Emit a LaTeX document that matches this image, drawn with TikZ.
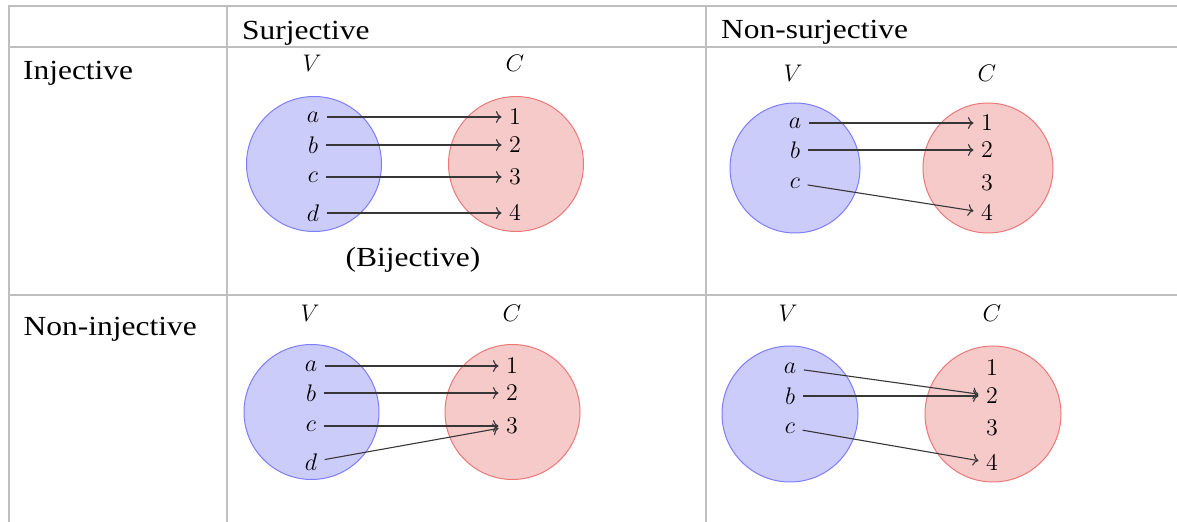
\documentclass[tikz,border=0pt]{standalone}
\usepackage{fontspec}
\newfontfamily\tabfont[FakeStretch=1.14]{Liberation Serif}
\usetikzlibrary{arrows.meta}
\definecolor{rulegray}{RGB}{191,191,191}
\definecolor{vfill}{RGB}{204,204,250}
\definecolor{vdraw}{RGB}{125,125,255}
\definecolor{cfill}{RGB}{247,202,202}
\definecolor{cdraw}{RGB}{236,120,120}
\definecolor{mapgray}{RGB}{55,55,55}

\begin{document}
\begin{tikzpicture}[x=.5pt,y=-.5pt,
  rule/.style={draw=rulegray,line width=1pt},
  head/.style={font=\tabfont\fontsize{13.8}{16}\selectfont,anchor=base west,inner sep=0pt},
  setname/.style={font=\fontsize{12}{14}\selectfont,inner sep=1pt},
  elem/.style={font=\fontsize{12}{14}\selectfont,inner sep=3.6pt},
  vset/.style={circle,fill=vfill,draw=vdraw,line width=.5pt,inner sep=0pt,minimum size=#1},
  vset/.default=67.5pt,
  cset/.style={circle,fill=cfill,draw=cdraw,line width=.5pt,inner sep=0pt,minimum size=#1},
  cset/.default=67.5pt,
  map/.style={->,draw=mapgray,line width=.55pt}]
\useasboundingbox (0,0) rectangle (1177,522);
% table rules
\draw[rule] (8,6) -- (1177,6);
\draw[rule] (8,47.5) -- (1177,47.5);
\draw[rule] (8,295) -- (1177,295);
\draw[rule] (8.5,6) -- (8.5,522);
\draw[rule] (227,6) -- (227,522);
\draw[rule] (706,6) -- (706,522);
\node[head] (hsurj) at (241.7,39.3) {Surjective};
\node[head] (hnonsurj) at (720.7,38.3) {Non-surjective};
\node[head] (hinj) at (22.7,80) {Injective};
\node[head] (hnoninj) at (23.3,336) {Non-injective};

% injective and surjective
\node[vset] (bij-V) at (314,164) {};
\node[cset] (bij-C) at (516,164) {};
\node[setname] (bij-vlab) at (312,63) {$V$};
\node[setname] (bij-clab) at (515,63) {$C$};
\node[elem] (bij-a) at (313,117) {$a$};
\node[elem] (bij-b) at (313,145) {$b$};
\node[elem] (bij-c) at (313,177) {$c$};
\node[elem] (bij-d) at (313,213) {$d$};
\node[elem] (bij-1) at (515,117) {$1$};
\node[elem] (bij-2) at (515,145) {$2$};
\node[elem] (bij-3) at (515,177) {$3$};
\node[elem] (bij-4) at (515,213) {$4$};
\draw[map] (bij-a) -- (bij-1);
\draw[map] (bij-b) -- (bij-2);
\draw[map] (bij-c) -- (bij-3);
\draw[map] (bij-d) -- (bij-4);
\node[font=\tabfont\fontsize{13.8}{16}\selectfont,anchor=base,inner sep=0pt] (bij-note) at (413,266.7) {(Bijective)};

% injective, not surjective
\node[vset=65pt] (inj-V) at (795,168) {};
\node[cset=65pt] (inj-C) at (988,168) {};
\node[setname] (inj-vlab) at (793,73) {$V$};
\node[setname] (inj-clab) at (987,73) {$C$};
\node[elem] (inj-a) at (795,123) {$a$};
\node[elem] (inj-b) at (795,150) {$b$};
\node[elem] (inj-c) at (795,183) {$c$};
\node[elem] (inj-1) at (987,123) {$1$};
\node[elem] (inj-2) at (987,150) {$2$};
\node[elem] (inj-3) at (987,183) {$3$};
\node[elem] (inj-4) at (987,213) {$4$};
\draw[map] (inj-a) -- (inj-1);
\draw[map] (inj-b) -- (inj-2);
\draw[map] (inj-c) -- (inj-4);

% surjective, not injective
\node[vset] (surj-V) at (311.5,412) {};
\node[cset] (surj-C) at (512.5,412) {};
\node[setname] (surj-vlab) at (310,313) {$V$};
\node[setname] (surj-clab) at (512,313) {$C$};
\node[elem] (surj-a) at (311,366) {$a$};
\node[elem] (surj-b) at (311,393) {$b$};
\node[elem] (surj-c) at (311,426) {$c$};
\node[elem] (surj-d) at (311,462) {$d$};
\node[elem] (surj-1) at (512,366) {$1$};
\node[elem] (surj-2) at (512,393) {$2$};
\node[elem] (surj-3) at (512,426) {$3$};
\draw[map] (surj-a) -- (surj-1);
\draw[map] (surj-b) -- (surj-2);
\draw[map] (surj-c) -- (surj-3);
\draw[map] (surj-d) -- (surj-3);

% neither
\node[vset=68pt] (none-V) at (790,414) {};
\node[cset=68pt] (none-C) at (993,414) {};
\node[setname] (none-vlab) at (788,313) {$V$};
\node[setname] (none-clab) at (992,313) {$C$};
\node[elem] (none-a) at (790,368) {$a$};
\node[elem] (none-b) at (790,396) {$b$};
\node[elem] (none-c) at (790,428) {$c$};
\node[elem] (none-1) at (992,368) {$1$};
\node[elem] (none-2) at (992,396) {$2$};
\node[elem] (none-3) at (992,428) {$3$};
\node[elem] (none-4) at (992,463) {$4$};
\draw[map] (none-a) -- (none-2);
\draw[map] (none-b) -- (none-2);
\draw[map] (none-c) -- (none-4);
\end{tikzpicture}
\end{document}
